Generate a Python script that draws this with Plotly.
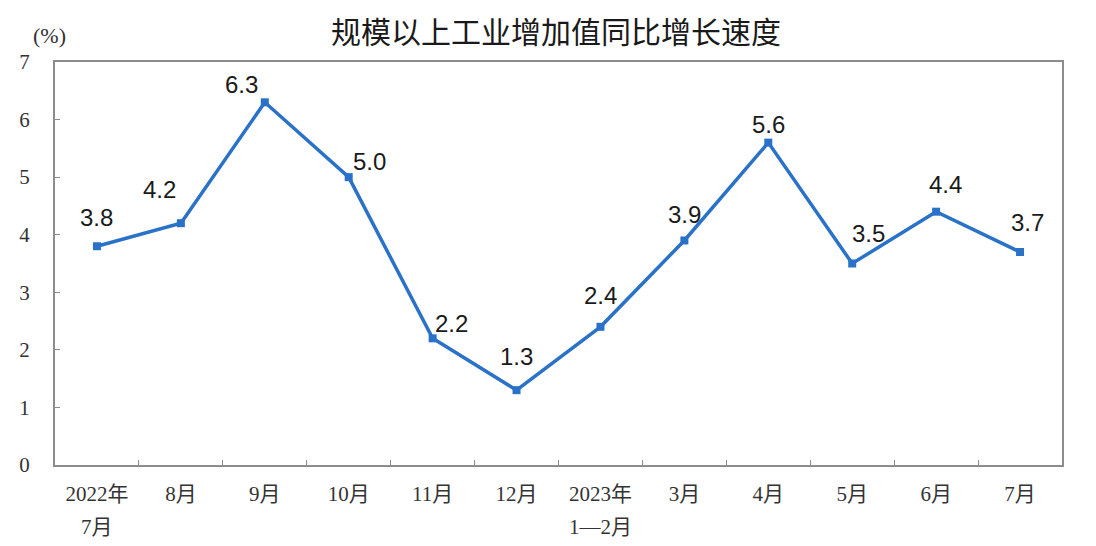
import plotly.graph_objects as go

categories_line1 = ["2022年", "8月", "9月", "10月", "11月", "12月",
                    "2023年", "3月", "4月", "5月", "6月", "7月"]
categories_line2 = ["7月", "", "", "", "", "", "1—2月", "", "", "", "", ""]
values = [3.8, 4.2, 6.3, 5.0, 2.2, 1.3, 2.4, 3.9, 5.6, 3.5, 4.4, 3.7]
value_labels = ["3.8", "4.2", "6.3", "5.0", "2.2", "1.3", "2.4", "3.9", "5.6", "3.5", "4.4", "3.7"]
y_ticks = [0, 1, 2, 3, 4, 5, 6, 7]

# label offsets (pixels) relative to each point
label_shift = [(0, 29), (-21, 34), (-23, 18), (21, 16), (19, 15), (0, 34),
               (0, 31), (0, 26), (0, 18), (16, 30), (9, 27), (7, 29)]

line_color = "#2a72c8"
axis_color = "#8c8c8c"
tick_font = dict(family="Liberation Serif, Noto Sans CJK SC, serif", size=21, color="#333")

fig = go.Figure()
fig.add_trace(go.Scatter(
    x=list(range(len(values))), y=values, mode="lines+markers",
    line=dict(color=line_color, width=3.5),
    marker=dict(symbol="square", size=8, color=line_color),
    showlegend=False, hoverinfo="skip",
))

for i, (v, t) in enumerate(zip(values, value_labels)):
    dx, dy = label_shift[i]
    fig.add_annotation(x=i, y=v, text=t, showarrow=False, xshift=dx, yshift=dy,
                       font=dict(family="Liberation Sans, Arial, sans-serif", size=24, color="#1a1a1a"))

for i, t in enumerate(categories_line2):
    if t:
        fig.add_annotation(x=i, y=0, yref="y", text=t, showarrow=False, yshift=-62,
                           font=tick_font)

fig.add_annotation(xref="paper", yref="paper", x=-0.005, y=1.066, text="(%)", showarrow=False,
                   xanchor="center", yanchor="middle",
                   font=dict(family="Liberation Serif, serif", size=22, color="#333"))

fig.update_layout(
    width=1096, height=546,
    margin=dict(l=47, r=42, t=54, b=89),
    paper_bgcolor="white", plot_bgcolor="white",
    title=dict(text="规模以上工业增加值同比增长速度", x=0.5, xanchor="center", y=0.955, yanchor="middle",
               font=dict(family="Noto Sans CJK SC, sans-serif", size=30, color="#1a1a1a")),
    xaxis=dict(
        range=[-0.5, len(values) - 0.5],
        tickmode="array", tickvals=list(range(len(values))), ticktext=categories_line1,
        showline=True, linecolor=axis_color, linewidth=2, mirror=True,
        ticks="", showgrid=False, zeroline=False,
        tickfont=tick_font,
        ticklabelstandoff=9,
        minor=dict(tickmode="array", tickvals=[i + 0.5 for i in range(len(values) - 1)],
                   ticks="inside", ticklen=5, tickcolor=axis_color, tickwidth=1),
    ),
    yaxis=dict(
        range=[0, 7], tickmode="array", tickvals=y_ticks,
        showline=True, linecolor=axis_color, linewidth=2, mirror=True,
        ticks="inside", ticklen=5, tickcolor=axis_color, showgrid=False, zeroline=False,
        tickfont=tick_font,
        ticklabelstandoff=19,
    ),
)

fig.write_html("out.html")
